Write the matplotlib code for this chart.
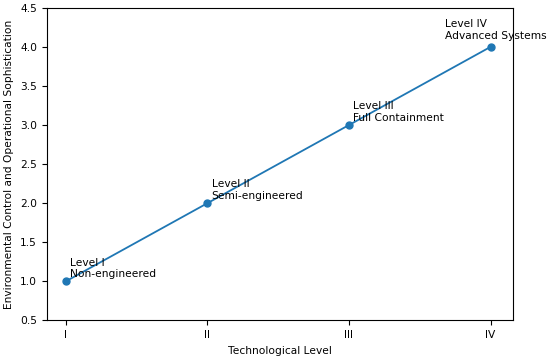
import matplotlib.pyplot as plt

# data
levels = ["I", "II", "III", "IV"]
positions = [1, 2, 3, 4]
sophistication = [1.0, 2.0, 3.0, 4.0]
labels = [
    "Level I\nNon-engineered",
    "Level II\nSemi-engineered",
    "Level III\nFull Containment",
    "Level IV\nAdvanced Systems",
]

plt.rcParams["font.size"] = 7.7

fig, ax = plt.subplots(figsize=(5.5, 3.56), dpi=100)
ax.plot(positions, sophistication, marker="o", markersize=5, linewidth=1.3, color="#1f77b4")

for i, (x, y, lab) in enumerate(zip(positions, sophistication, labels)):
    # last label shifted left so it stays inside the figure
    offset = (-33, 6) if i == len(labels) - 1 else (3, 3)
    ax.annotate(lab, (x, y), textcoords="offset points", xytext=offset, fontsize=7.7)

ax.set_xticks(positions)
ax.set_xticklabels(levels)
ax.set_ylim(0.5, 4.5)
ax.set_xlim(0.865, 4.16)
ax.set_xlabel("Technological Level")
ax.set_ylabel("Environmental Control and Operational Sophistication")

fig.subplots_adjust(left=0.085, right=0.933, top=0.978, bottom=0.1)
fig.savefig("out.png")
